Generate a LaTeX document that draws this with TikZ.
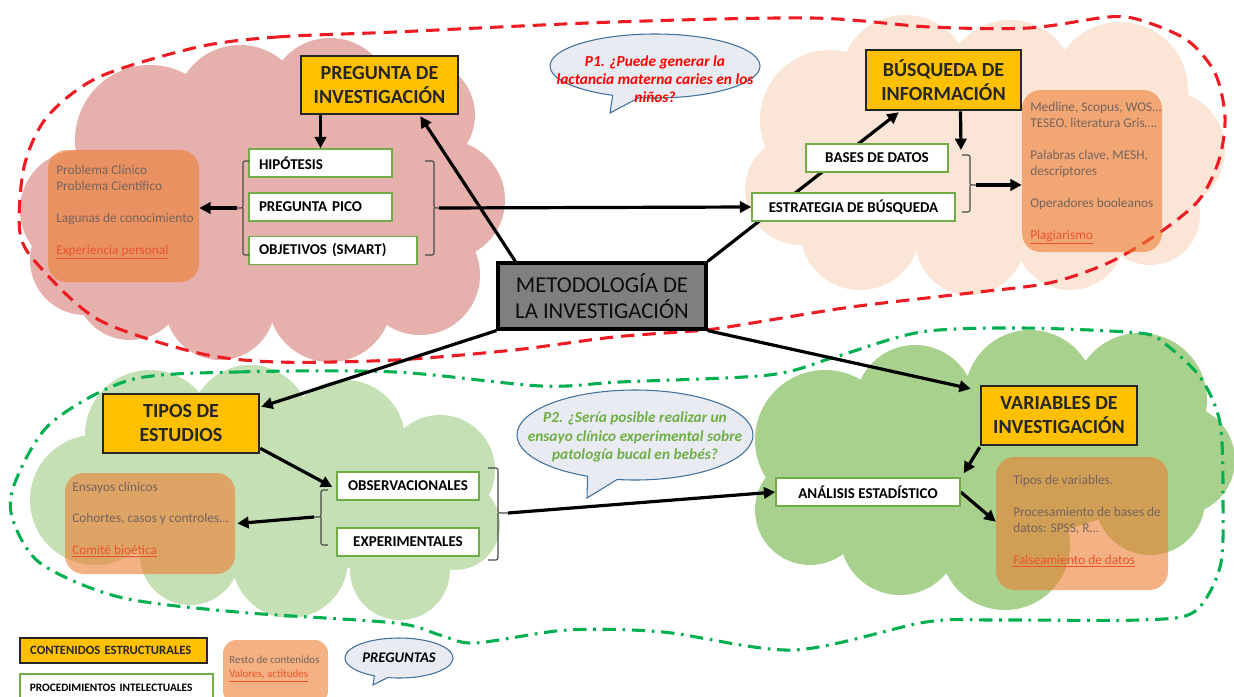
\documentclass[tikz,border=0pt]{standalone}
\usepackage{fontspec}
\setmainfont{Carlito}
\usetikzlibrary{arrows.meta,calc,shapes.callouts,shapes.geometric}
\pgfdeclarelayer{bg}
\pgfdeclarelayer{conn}
\pgfsetlayers{bg,conn,main}
\definecolor{pinkc}{RGB}{230,176,172}
\definecolor{peachc}{RGB}{251,229,214}
\definecolor{lgreenc}{RGB}{197,224,180}
\definecolor{greenc}{RGB}{169,209,142}
\definecolor{orangec}{RGB}{237,125,49}
\definecolor{yellowc}{RGB}{255,192,0}
\definecolor{boxgreen}{RGB}{112,173,71}
\definecolor{darkc}{RGB}{38,38,38}
\definecolor{graytext}{RGB}{118,100,92}
\definecolor{linkc}{RGB}{236,84,44}
\definecolor{reddash}{RGB}{237,28,36}
\definecolor{greendash}{RGB}{0,176,80}
\definecolor{bubblefill}{RGB}{232,236,242}
\definecolor{bubbleline}{RGB}{65,113,156}
\definecolor{centralfill}{RGB}{127,127,127}
\definecolor{p2green}{RGB}{112,173,71}
\newcommand\lnk[1]{\textcolor{linkc}{\underline{#1}}}
\tikzset{
  hbox/.style={draw=darkc, line width=1.9pt, fill=yellowc, font=\bfseries\fontsize{15}{18}\selectfont, align=center, text=darkc, inner sep=2pt},
  wbox/.style={draw=boxgreen, line width=1.1pt, fill=white, font=\bfseries\fontsize{11.25}{13}\selectfont, text=black, minimum height=21pt, inner sep=0pt},
  obox/.style={fill=orangec, fill opacity=0.6, rounded corners=14pt, inner sep=0pt},
  otext/.style={font=\fontsize{10}{12}\selectfont, text=graytext, align=left, inner sep=0pt},
  arr/.style={line width=2.4pt, -{Triangle[length=8.5pt,width=8.5pt]}},
  brk/.style={draw=darkc!85, line width=0.8pt, rounded corners=1.5pt},
  bubble/.style={ellipse callout, draw=bubbleline, line width=0.8pt, fill=bubblefill, inner sep=0pt},
  reddashed/.style={draw=reddash, line width=2.3pt, dash pattern=on 10pt off 6pt},
  greendashdot/.style={draw=greendash, line width=2.3pt, dash pattern=on 10pt off 5pt on 2pt off 5pt},
}
\begin{document}
\begin{tikzpicture}[x=0.75pt,y=-0.75pt]
\useasboundingbox (0,0) rectangle (1234,696);

\begin{pgfonlayer}{bg}
\fill[white] (0,0) rectangle (1234,696);
% ---- clouds
\fill[pinkc] plot[smooth cycle] coordinates {(150,140) (240,110) (330,100) (420,115) (445,200) (420,275) (330,300) (220,305) (130,285) (85,260) (80,210)};
\fill[pinkc] (150,140) circle (75) (240,110) circle (65) (330,100) circle (62)
  (420,115) circle (55) (445,200) circle (60) (420,275) circle (60)
  (330,300) circle (62) (220,305) circle (55) (130,285) circle (55)
  (80,210) circle (60) (85,260) circle (55);
\fill[peachc] plot[smooth cycle] coordinates {(830,120) (905,85) (1010,85) (1120,90) (1165,150) (1150,215) (1070,235) (970,240) (860,230) (800,190)};
\fill[peachc] (830,120) circle (70) (905,80) circle (65) (1010,85) circle (65)
  (1120,90) circle (68) (1165,150) circle (60) (1150,215) circle (50)
  (1070,235) circle (55) (970,240) circle (55) (860,230) circle (60)
  (800,190) circle (55);
\fill[lgreenc] plot[smooth cycle] coordinates {(150,435) (250,425) (345,440) (440,470) (455,525) (400,570) (290,560) (190,555) (95,500)};
\fill[lgreenc] (150,435) circle (65) (250,425) circle (60) (345,440) circle (60)
  (440,470) circle (55) (455,525) circle (45) (400,570) circle (50)
  (290,560) circle (58) (190,555) circle (50) (95,500) circle (65);
\fill[greenc] plot[smooth cycle] coordinates {(825,440) (915,405) (1030,395) (1140,400) (1180,460) (1150,500) (1005,545) (900,535) (810,510)};
\fill[greenc] (825,440) circle (70) (915,405) circle (60) (1030,395) circle (65)
  (1140,400) circle (67) (1180,460) circle (55) (1150,500) circle (55)
  (1005,545) circle (65) (900,535) circle (60) (810,510) circle (55);

% ---- group outlines
\draw[reddashed] plot[smooth cycle] coordinates {(198,47) (277,37) (395,32) (614,22)
  (812,18) (930,27) (1029,28) (1108,17) (1140,20) (1187,40) (1215,73) (1225,117)
  (1219,160) (1199,200) (1159,233) (1108,263) (1049,283) (970,293) (851,307)
  (752,323) (705,330) (614,337) (514,350) (395,360) (277,362) (198,353) (99,320)
  (40,267) (20,233) (24,167) (47,117) (99,77)};
\draw[greendashdot] plot[smooth cycle] coordinates {(130,380) (237,372) (395,372)
  (541,386) (620,382) (769,375) (835,357) (921,332) (1022,328) (1139,333)
  (1164,343) (1200,377) (1220,423) (1223,503) (1220,567) (1194,612) (1139,620)
  (997,620) (926,622) (794,650) (663,632) (567,630) (475,643) (440,635)
  (395,623) (237,612) (119,597) (40,563) (12,517) (16,480) (51,423)};
\end{pgfonlayer}

% ---- orange content boxes
\node[obox, minimum width=113.25pt, minimum height=99pt] (obox1) at (123.5,216) {};
\node[obox, minimum width=105pt, minimum height=121.5pt] (obox2) at (1092,171) {};
\node[obox, minimum width=127.5pt, minimum height=75.75pt] (obox3) at (150,523.5) {};
\node[obox, minimum width=129pt, minimum height=99.75pt] (obox4) at (1082,523.5) {};
\node[obox, minimum width=78.75pt, minimum height=48pt, rounded corners=10pt] (obox5) at (275.5,672) {};

\node[otext, anchor=north west] (t1) at (56,165) {Problema Clínico\\Problema Científico\\[12pt]Lagunas de conocimiento\\[12pt]\lnk{Experiencia personal}};
\node[otext, anchor=north west] (t2) at (1030,102) {Medline, Scopus, WOS…\\TESEO, literatura Gris….\\[12pt]Palabras clave, MESH,\\descriptores\\[12pt]Operadores booleanos\\[12pt]\lnk{Plagiarismo}};
\node[otext, anchor=north west] (t3) at (72,482) {Ensayos clínicos\\[11.5pt]Cohortes, casos y controles…\\[11.5pt]\lnk{Comité bioética}};
\node[otext, anchor=north west] (t4) at (1013,475) {Tipos de variables.\\[12pt]Procesamiento de bases de\\datos: SPSS, R…\\[12pt]\lnk{Falseamiento de datos}};
\node[otext, anchor=north west, font=\fontsize{8.25}{10.5}\selectfont] (t5) at (229,656) {Resto de contenidos\\\lnk{Valores, actitudes}};

% ---- main nodes
\node[hbox, minimum width=117.75pt, minimum height=43.5pt] (preg) at (379.5,85) {PREGUNTA DE\\INVESTIGACIÓN};
\node[hbox, minimum width=116.25pt, minimum height=45pt] (busq) at (943.5,80) {BÚSQUEDA DE\\INFORMACIÓN};
\node[hbox, minimum width=117pt, minimum height=44.25pt] (tipos) at (181,423.5) {TIPOS DE\\ESTUDIOS};
\node[hbox, minimum width=117pt, minimum height=44.25pt] (vars) at (1059,415.5) {VARIABLES DE\\INVESTIGACIÓN};
\node[draw=black, line width=2.4pt, fill=centralfill, minimum width=156pt, minimum height=49.5pt, font=\fontsize{17}{20}\selectfont, text=black!95, align=center, inner sep=0pt] (central) at (602,296) {METODOLOGÍA DE\\LA INVESTIGACIÓN};

\node[wbox, text width=92.25pt, inner xsep=7.5pt, align=left] (hip) at (320.5,163) {HIPÓTESIS};
\node[wbox, text width=92.25pt, inner xsep=7.5pt, align=left] (pico) at (320.5,207) {PREGUNTA PICO};
\node[wbox, text width=111pt, inner xsep=7.5pt, align=left] (obj) at (333,250.5) {OBJETIVOS (SMART)};
\node[wbox, minimum width=106.5pt] (bases) at (877,158) {BASES DE DATOS};
\node[wbox, minimum width=152.25pt] (estr) at (853.5,207) {ESTRATEGIA DE BÚSQUEDA};
\node[wbox, minimum width=106.5pt] (obs) at (408,486) {OBSERVACIONALES};
\node[wbox, minimum width=106.5pt] (exper) at (408,542) {EXPERIMENTALES};
\node[wbox, minimum width=138pt] (anal) at (868,492) {ANÁLISIS ESTADÍSTICO};

\coordinate (br1) at (237,208);
\coordinate (br2) at (439,208);
\coordinate (br3) at (976,185);
\coordinate (br4) at (314,517);
\coordinate (br5) at (508,513);
\coordinate (bd) at (961,150);

% ---- connectors
\begin{pgfonlayer}{conn}
\draw[arr] ($(central.north west)+(19,0)$) -- ($(preg.south east)+(-39,1)$);
\draw[arr] (central.north east) -- ($(busq.south west)+(34,1)$);
\draw[arr] (central.south west) -- ($(tipos.north east)+(1,14)$);
\draw[arr] (central.south east) -- ($(vars.north west)+(-9,4)$);
\draw[arr] (hip.north |- preg.south) -- (hip.north);
\draw[arr] ($(busq.south)+(17,0)$) -- (bd);
\draw[arr] ($(tipos.south east)+(0,-6)$) -- ($(obs.west)+(-4,1)$);
\draw[arr] ($(vars.south west)+(0,1)$) -- ($(anal.north east)+(3,-4)$);
\draw[arr] (anal.east) -- ($(obox4.north west)+(0,65)$);
\draw[arr] (br1) -- (br1 -| obox1.east);
\draw[arr] (br2) -- (estr.west);
\draw[arr] (br3) -- (br3 -| obox2.west);
\draw[arr] (br4) -- ($(obox3.east)+(2,0)$);
\draw[arr] (br5) -- (anal.west);
\end{pgfonlayer}

% brackets
\draw[brk] (249,161) -- (243,161) -- (243,208) -- (br1);
\draw[brk] (243,208) -- (243,255) -- (249,255);
\draw[brk] (425,161) -- (434,161) -- (434,208) -- (br2);
\draw[brk] (434,208) -- (434,255) -- (425,255);
\draw[brk] (962,155) -- (970,155) -- (970,185) -- (br3);
\draw[brk] (970,185) -- (970,212) -- (962,212);
\draw[brk] (328,490) -- (321,490) -- (321,517) -- (br4);
\draw[brk] (321,517) -- (321,545) -- (328,545);
\draw[brk] (488,468) -- (498,468) -- (498,513) -- (br5);
\draw[brk] (498,513) -- (498,560) -- (488,560);

% ---- speech bubbles
\node[bubble, minimum width=157.5pt, minimum height=48pt, callout absolute pointer={(610,113)}] (p1b) at (655,66) {};
\node[font=\bfseries\itshape\fontsize{11.5}{13.5}\selectfont, text=red, align=center, inner sep=0pt] (p1t) at (655,79) {P1. ¿Puede generar la\\lactancia materna caries en los\\niños?};
\node[bubble, minimum width=177pt, minimum height=67.5pt, callout absolute pointer={(587,498)}] (p2b) at (635,435) {};
\node[font=\bfseries\itshape\fontsize{11.5}{14}\selectfont, text=p2green, align=center, inner sep=0pt] (p2t) at (635,437) {P2. ¿Sería posible realizar un\\ensayo clínico experimental sobre\\patología bucal en bebés?};

% ---- legend
\node[hbox, line width=1.5pt, font=\bfseries\fontsize{9.5}{11}\selectfont, text width=125pt, inner xsep=7.5pt, minimum height=18.75pt, align=left] (leg1) at (113.5,650.5) {CONTENIDOS ESTRUCTURALES};
\node[wbox, font=\bfseries\fontsize{8.5}{10}\selectfont, text width=130pt, inner xsep=7.5pt, minimum height=21pt, align=left] (leg2) at (116.5,688) {PROCEDIMIENTOS INTELECTUALES};
\node[bubble, minimum width=81pt, minimum height=30pt, callout absolute pointer={(373,685)}] (leg3) at (399,658) {};
\node[font=\bfseries\itshape\fontsize{11}{13}\selectfont, text=black, inner sep=0pt] (leg3t) at (399,658) {PREGUNTAS};
\end{tikzpicture}
\end{document}
